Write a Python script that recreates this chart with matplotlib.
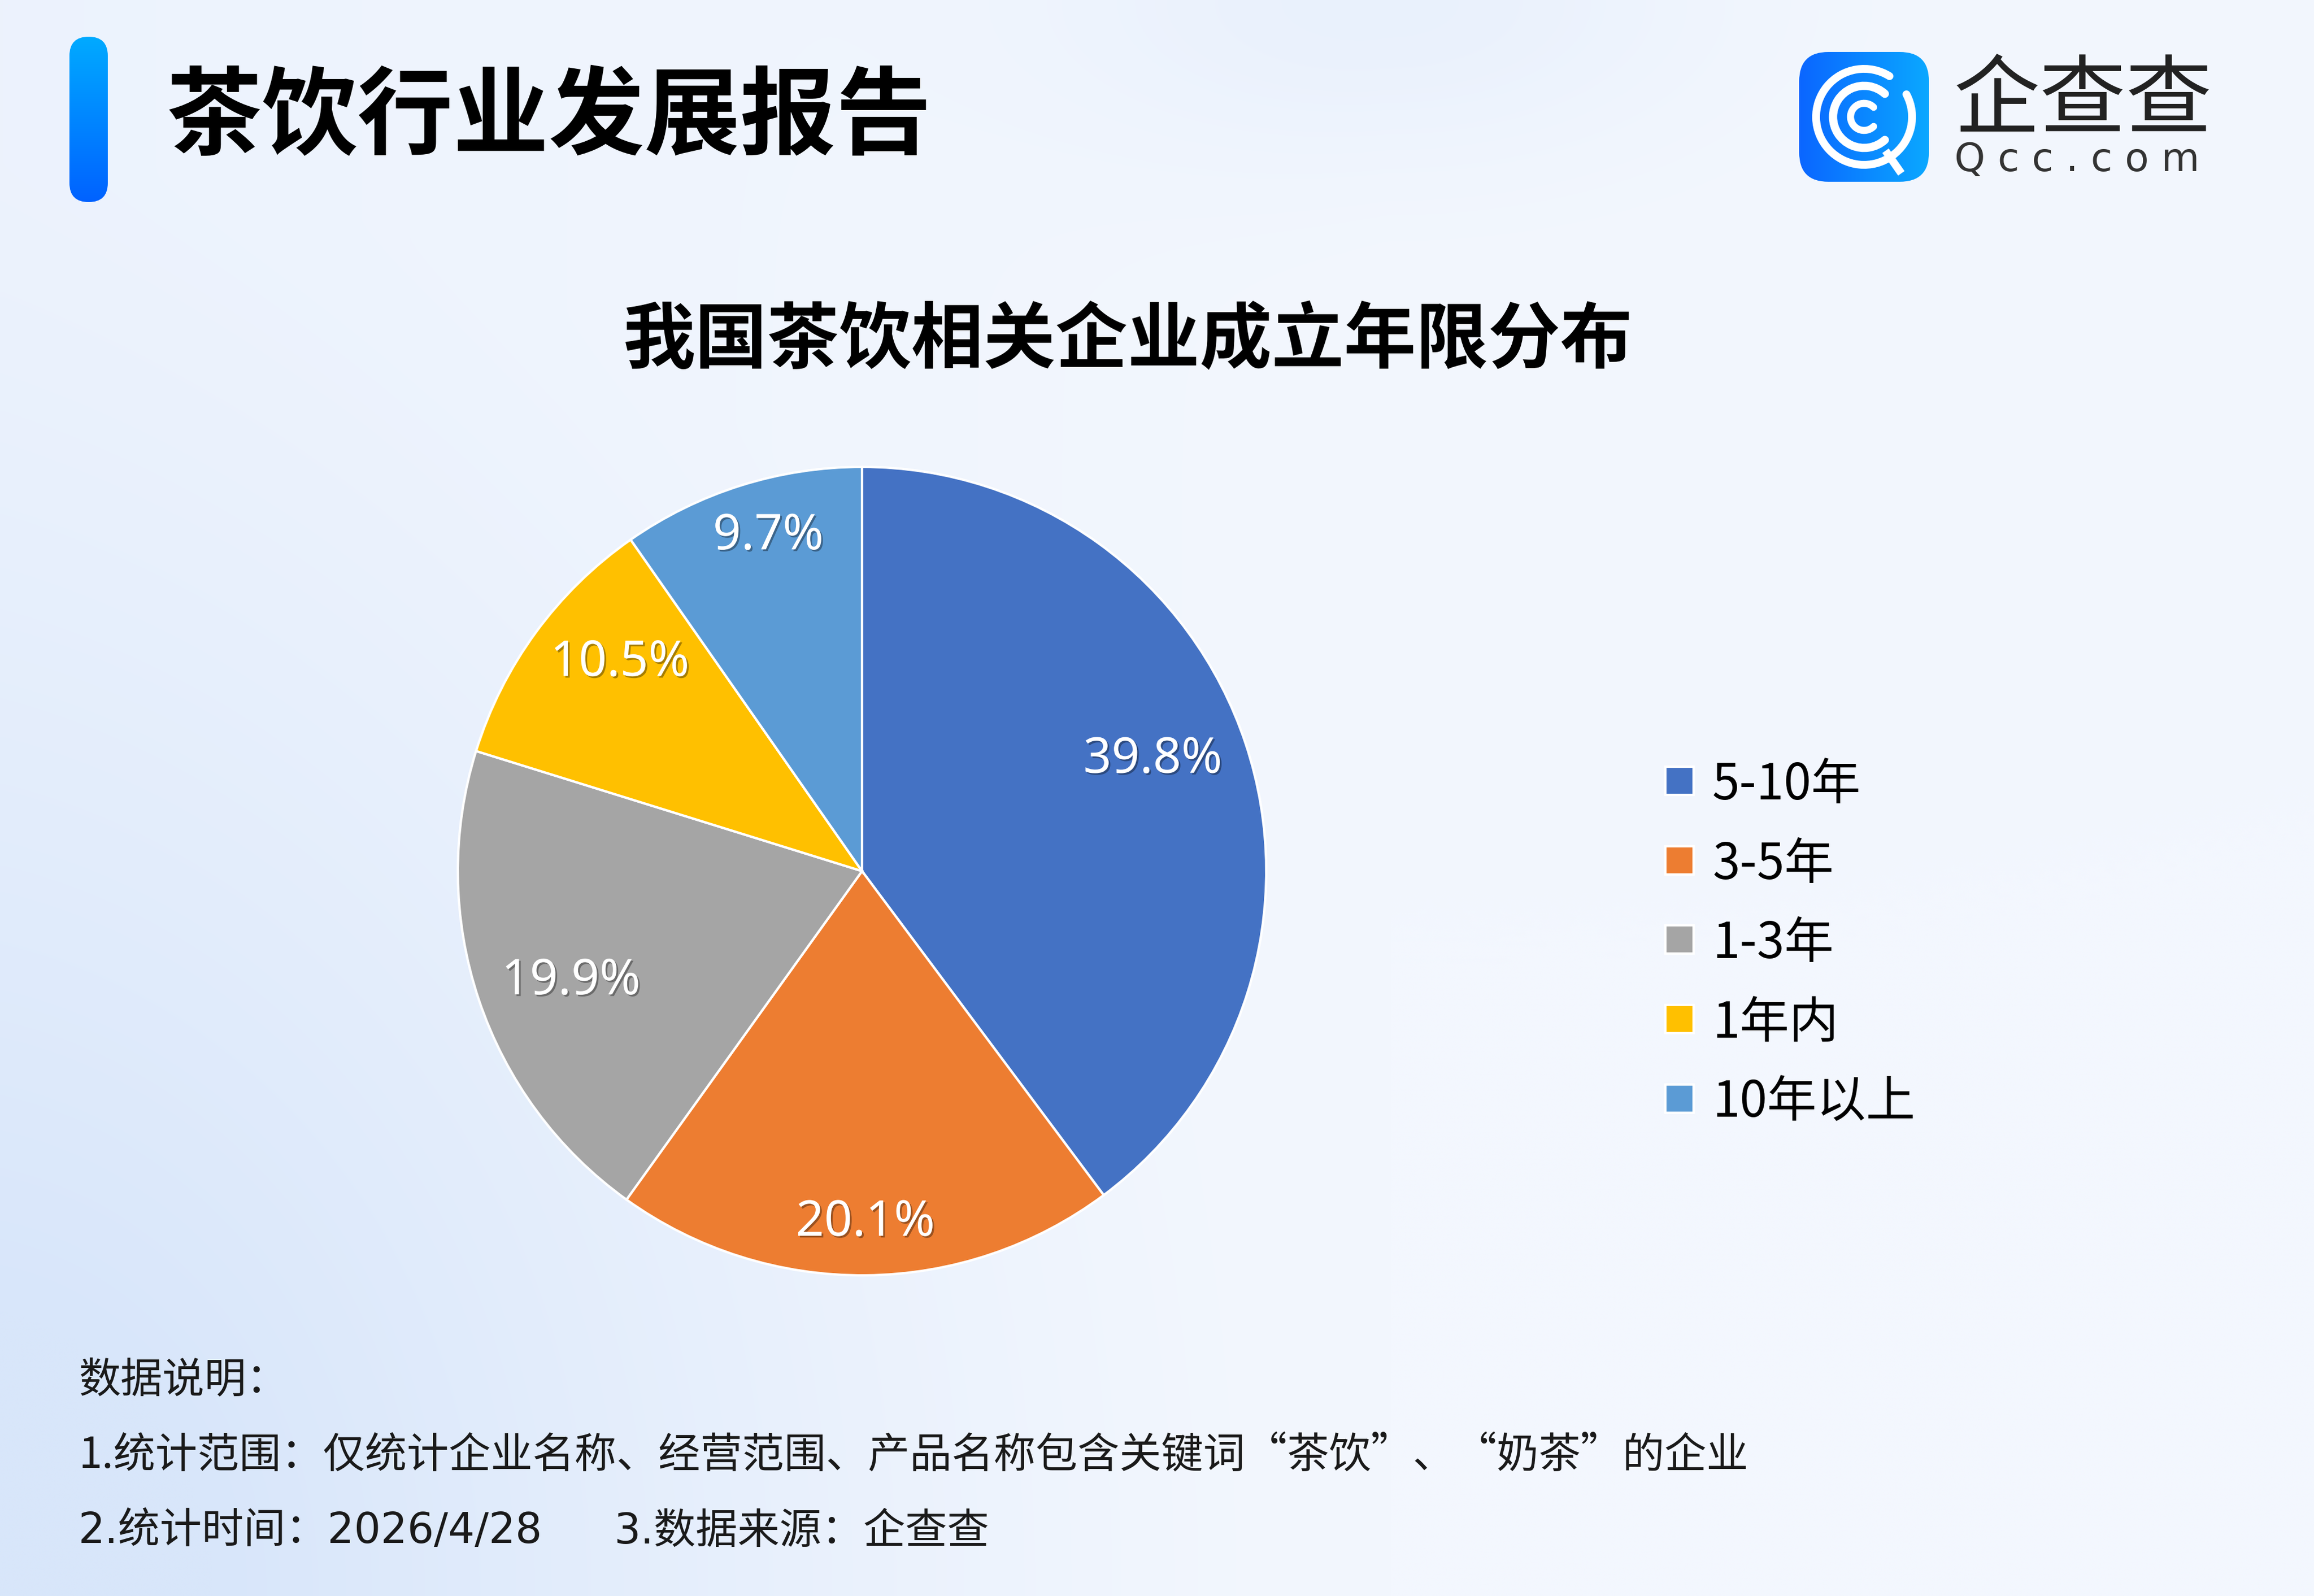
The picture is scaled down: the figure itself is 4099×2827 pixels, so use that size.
import numpy as np
import matplotlib.pyplot as plt
import matplotlib.patheffects as pe
from matplotlib.patches import FancyBboxPatch, Rectangle, Arc
from matplotlib.colors import to_rgb

W, H = 4099, 2827

categories = ['5-10年', '3-5年', '1-3年', '1年内', '10年以上']
shares = [39.8, 20.1, 19.9, 10.5, 9.7]
colors = ['#4472C4', '#ED7D31', '#A5A5A5', '#FFC000', '#5B9BD5']
# where each percentage sits inside its slice (radius fraction, angle nudge in degrees)
label_dist = [0.77, 0.87, 0.77, 0.79, 0.86]
label_nudge = [2.6, 0.0, 2.2, -4.5, -1.8]

title = '茶饮行业发展报告'
chart_title = '我国茶饮相关企业成立年限分布'
note_head = '数据说明：'
note_scope = '1.统计范围：仅统计企业名称、经营范围、产品名称包含关键词“茶饮”、“奶茶”的企业'
note_time = '2.统计时间：2026/4/28'
note_source = '3.数据来源：企查查'

CJK = ['Noto Sans CJK SC', 'DejaVu Sans']
plt.rcParams['font.family'] = CJK

fig = plt.figure(figsize=(W / 100, H / 100), dpi=100)

# background axes in pixel coordinates (y grows downwards)
bg = fig.add_axes([0, 0, 1, 1], zorder=0)
bg.set_xlim(0, W)
bg.set_ylim(H, 0)
bg.axis('off')

yy, xx = np.mgrid[0:1:300j, 0:1:420j]
base = np.array(to_rgb('#f3f7fe'))
blue = np.array(to_rgb('#d8e6fa'))
w_bl = np.clip(1 - np.hypot(xx / 0.55, (1 - yy) / 0.9), 0, 1) ** 1.3
w_left = np.clip(1 - xx / 0.6, 0, 1) * 0.25
w_top = np.exp(-(((xx - 0.6) / 0.14) ** 2 + (yy / 0.1) ** 2)) * 0.35
w = np.clip(w_bl + w_left + w_top, 0, 1)
img = base[None, None, :] * (1 - w[..., None]) + blue[None, None, :] * w[..., None]
bg.imshow(img, extent=(0, W, H, 0), aspect='auto', interpolation='bilinear', zorder=0)


def gradient_box(x, y, bw, bh, rad, c0, c1, vertical=True):
    box = FancyBboxPatch((x, y), bw, bh, boxstyle=f'round,pad=0,rounding_size={rad}',
                         linewidth=0, facecolor='none', zorder=2)
    bg.add_patch(box)
    t = np.linspace(0, 1, 200)
    grad = (1 - t)[:, None] * np.array(to_rgb(c0)) + t[:, None] * np.array(to_rgb(c1))
    grad = grad[:, None, :] if vertical else grad[None, :, :]
    im = bg.imshow(grad, extent=(x, x + bw, y + bh, y), aspect='auto', zorder=2)
    im.set_clip_path(box)


# accent bar + report title
gradient_box(123, 65, 68, 293, 34, '#00aaff', '#0062ff', vertical=True)
bg.text(295, 210, title, fontsize=122, fontweight='heavy', color='black',
        ha='left', va='center', zorder=3)

# qcc logo
gradient_box(3187, 92, 230, 230, 52, '#0b66ff', '#0aa8ff', vertical=False)
cx, cy = 3302, 207
ring = dict(color='white', zorder=4, capstyle='round')
bg.add_patch(Arc((cx, cy), 170, 170, theta1=-28, theta2=302, lw=10, **ring))
bg.add_patch(Arc((cx, cy), 110, 110, theta1=48, theta2=312, lw=10.5, **ring))
bg.add_patch(Arc((cx, cy), 48, 48, theta1=45, theta2=315, lw=9, **ring))
bg.plot([cx + 38, cx + 66], [cy + 60, cy + 100], color='white', lw=10,
        solid_capstyle='butt', zorder=4)
bg.text(3690, 182, '企查查', fontsize=110, color='#222222', ha='center', va='center', zorder=3)
bg.text(3462, 284, 'Q c c . c o m', fontsize=50, family='DejaVu Sans', color='#333333',
        ha='left', va='center', zorder=3)

# chart title
bg.text(1997, 606, chart_title, fontsize=92, fontweight='bold', color='black',
        ha='center', va='center', zorder=3)

# pie
R = 716
pcx, pcy = 1527, 1543
ax = fig.add_axes([(pcx - R) / W, 1 - (pcy + R) / H, 2 * R / W, 2 * R / H], zorder=1)
ax.patch.set_alpha(0)
wedges, _ = ax.pie(shares, colors=colors, startangle=90, counterclock=False,
                   wedgeprops=dict(edgecolor='white', linewidth=3))
ax.set_xlim(-1, 1)
ax.set_ylim(-1, 1)
ax.set_aspect('equal')
ax.axis('off')

shadow = [pe.SimplePatchShadow(offset=(2.2, -2.2), shadow_rgbFace='black', alpha=0.35), pe.Normal()]
for wdg, val, d, nudge in zip(wedges, shares, label_dist, label_nudge):
    ang = np.deg2rad((wdg.theta1 + wdg.theta2) / 2 + nudge)
    ax.text(d * np.cos(ang), d * np.sin(ang), f'{val:.1f}%', fontsize=63,
            family=['Noto Sans', 'DejaVu Sans'], color='white',
            ha='center', va='center', path_effects=shadow)

# legend
for i, (lab, col) in enumerate(zip(categories, colors)):
    ly = 1383 + i * 140.7
    bg.add_patch(Rectangle((2975 - 25, ly - 25), 50, 50, facecolor=col,
                           edgecolor='white', linewidth=3, zorder=3))
    bg.text(3033, ly + 8, lab, fontsize=63, color='black', ha='left', va='center', zorder=3)

# notes
note_kw = dict(fontsize=53.5, color='#1a1a1a', ha='left', va='center', zorder=3)
wide_digits = ['DejaVu Sans', 'Noto Sans CJK SC']
bg.text(139, 2446, note_head, **note_kw)
bg.text(139, 2579, note_scope, **note_kw)
bg.text(139, 2713, note_time, family=wide_digits, **note_kw)
bg.text(1087, 2713, note_source, family=wide_digits, **note_kw)

fig.savefig('out.png', dpi=100)
